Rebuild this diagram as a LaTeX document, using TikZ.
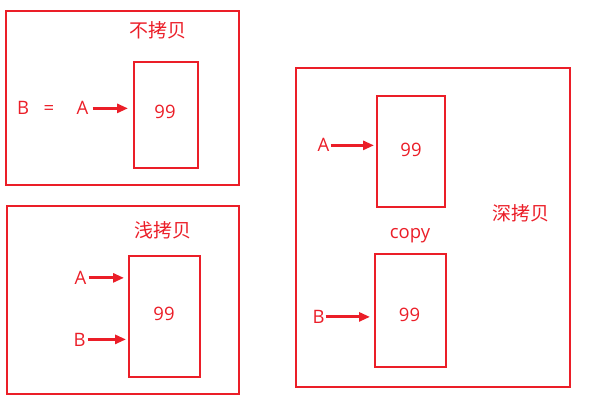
\documentclass[tikz,border=0pt]{standalone}
\usepackage{fontspec}
\setmainfont{Open Sans}
\newfontfamily\cjkfont{Noto Sans CJK SC}
\usetikzlibrary{arrows.meta}
\definecolor{myred}{RGB}{235,30,40}
\begin{document}
\begin{tikzpicture}[x=1pt,y=-1pt,
  frame/.style={draw=myred,line width=2pt,inner sep=0pt,anchor=north west},
  lbl/.style={text=myred,font=\fontsize{18.5}{18.5}\selectfont,inner sep=0pt,anchor=base},
  cjk/.style={text=myred,font=\cjkfont\fontsize{19}{19}\selectfont,inner sep=0pt,anchor=base},
  ptr/.style={draw=myred,line width=3pt,-{Triangle[length=11pt,width=9pt]}}]
\useasboundingbox (0,0) rectangle (589,401);
% panel 1
\node[frame,minimum width=233pt,minimum height=174pt] (o1) at (5,10) {};
\node[frame,minimum width=64pt,minimum height=106pt] (m1) at (133,61) {};
\node[lbl] (n1) at (165,119) {99};
\node[cjk] (t1) at (158,38) {不拷贝};
\node[lbl] (b1) at (23,115) {B};
\node[lbl] (e1) at (49,115) {=};
\node[lbl] (a1) at (82.5,115) {A};
\draw[ptr,shorten <=4pt] (a1.east) -- ([xshift=-5pt]a1.east -| m1.west);
% panel 2
\node[frame,minimum width=232pt,minimum height=188pt] (o2) at (6,205) {};
\node[frame,minimum width=71pt,minimum height=121pt] (m2) at (128,255) {};
\node[lbl] (n2) at (164,320) {99};
\node[cjk] (t2) at (163,237) {浅拷贝};
\node[lbl] (a2) at (80.5,284.5) {A};
\node[lbl] (b2) at (79.5,346) {B};
\draw[ptr,shorten <=2pt] (a2.east) -- ([xshift=-4pt]a2.east -| m2.west);
\draw[ptr,shorten <=2pt] (b2.east) -- ([xshift=-2pt]b2.east -| m2.west);
% panel 3
\node[frame,minimum width=274pt,minimum height=319pt] (o3) at (295,67) {};
\node[frame,minimum width=68pt,minimum height=111pt] (m3) at (376,95) {};
\node[frame,minimum width=71pt,minimum height=113pt] (m4) at (374,253) {};
\node[lbl] (n3) at (411,157) {99};
\node[lbl] (n4) at (409.5,321) {99};
\node[lbl] (c3) at (410,238) {copy};
\node[cjk] (t3) at (521,220) {深拷贝};
\node[lbl] (a3) at (323.5,152) {A};
\node[lbl] (b3) at (318.5,323.5) {B};
\draw[ptr,shorten <=1pt] (a3.east) -- ([xshift=-2pt]a3.east -| m3.west);
\draw[ptr,shorten <=1pt] (b3.east) -- ([xshift=-4pt]b3.east -| m4.west);
\end{tikzpicture}
\end{document}
